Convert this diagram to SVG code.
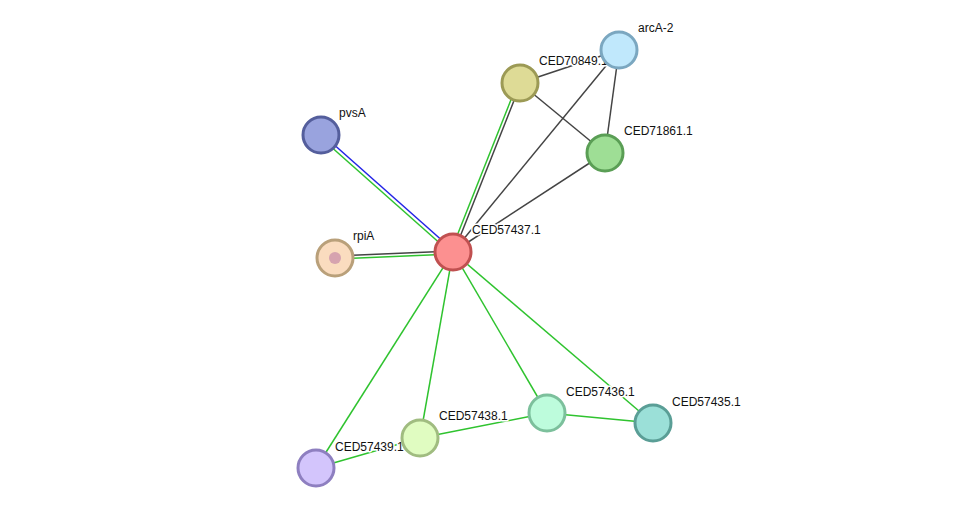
<svg xmlns="http://www.w3.org/2000/svg" width="975" height="514" viewBox="0 0 975 514">
<style>
.e{stroke-width:1.5;fill:none}
.k{stroke:#444}.g{stroke:#2fc32f}.b{stroke:#2323e6}
circle{stroke-width:3}
text{font-family:"Liberation Sans",Arial,sans-serif;font-size:12px;fill:#111;paint-order:stroke;stroke:#fff;stroke-width:3px;stroke-linejoin:round}
</style>
<rect width="975" height="514" fill="#fff"/>
<g id="edges">
<line class="e b" x1="322" y1="134" x2="454" y2="251"/>
<line class="e g" x1="320" y1="137" x2="452" y2="254"/>
<line class="e k" x1="335" y1="256" x2="453" y2="251"/>
<line class="e g" x1="335" y1="259" x2="453" y2="254"/>
<line class="e g" x1="518" y1="82" x2="451" y2="251"/>
<line class="e k" x1="521" y1="83" x2="454" y2="252"/>
<line class="e k" x1="453" y1="252" x2="619" y2="50"/>
<line class="e k" x1="453" y1="252" x2="605" y2="153"/>
<line class="e k" x1="520" y1="83" x2="619" y2="50"/>
<line class="e k" x1="520" y1="83" x2="605" y2="153"/>
<line class="e k" x1="619" y1="50" x2="605" y2="153"/>
<line class="e g" x1="453" y1="252" x2="316" y2="468"/>
<line class="e g" x1="453" y1="252" x2="420" y2="438"/>
<line class="e g" x1="453" y1="252" x2="547" y2="413"/>
<line class="e g" x1="453" y1="252" x2="653" y2="423"/>
<line class="e g" x1="316" y1="468" x2="420" y2="438"/>
<line class="e g" x1="420" y1="438" x2="547" y2="413"/>
<line class="e g" x1="547" y1="413" x2="653" y2="423"/>
</g>
<g id="n_pvsA"><circle cx="321" cy="135" r="18" fill="#99a3de" stroke="#545e9c"/><text x="339" y="117">pvsA</text></g>
<g id="n_rpiA"><circle cx="335" cy="258" r="18" fill="#fadcbf" stroke="#b9a07a"/><circle cx="335" cy="258" r="6" fill="#c68aa8" opacity="0.7" stroke="none"/><text x="353" y="240">rpiA</text></g>
<g id="n_CED70849"><circle cx="520" cy="83" r="18" fill="#dedb96" stroke="#9c9a55"/><text x="539" y="65">CED70849.1</text></g>
<g id="n_arcA2"><circle cx="619" cy="50" r="18" fill="#c0e8fc" stroke="#7ba7c0"/><text x="638" y="32">arcA-2</text></g>
<g id="n_CED71861"><circle cx="605" cy="153" r="18" fill="#9ede95" stroke="#5a9e55"/><text x="624" y="135">CED71861.1</text></g>
<g id="n_CED57437"><circle cx="453" cy="252" r="18" fill="#fc9090" stroke="#c05050"/><text x="472" y="234">CED57437.1</text></g>
<g id="n_CED57439"><circle cx="316" cy="468" r="18" fill="#d3c5fc" stroke="#8e7fc0"/><text x="335" y="451">CED57439.1</text></g>
<g id="n_CED57438"><circle cx="420" cy="438" r="18" fill="#e0fcc1" stroke="#a0bc80"/><text x="439" y="420">CED57438.1</text></g>
<g id="n_CED57436"><circle cx="547" cy="413" r="18" fill="#bdfcdc" stroke="#7cc09c"/><text x="566" y="396">CED57436.1</text></g>
<g id="n_CED57435"><circle cx="653" cy="423" r="18" fill="#9be0d8" stroke="#5a9e96"/><text x="672" y="406">CED57435.1</text></g>
</svg>
